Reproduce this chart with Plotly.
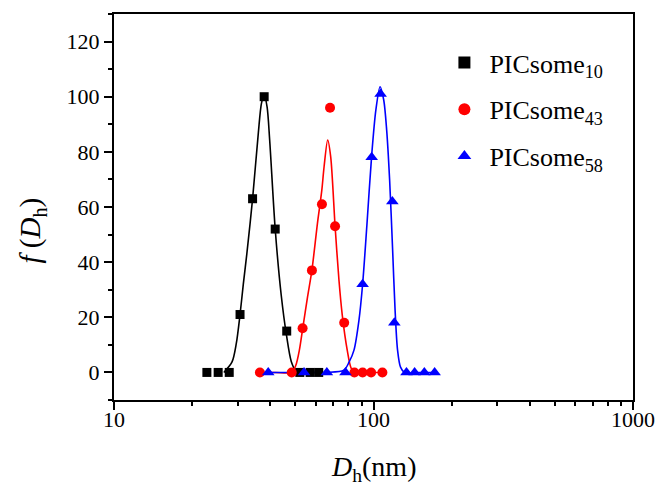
import plotly.graph_objects as go

# ---- measured data points (Dh in nm, f(Dh)) ----
black_x = [22.8, 25.2, 27.8, 30.6, 34.2, 37.9, 41.8, 46.3, 52.0, 57.0, 61.5]
black_y = [0, 0, 0, 21, 63, 100, 52, 15, 0, 0, 0]

red_x = [36.5, 48.4, 53.3, 57.9, 63.3, 68.0, 71.1, 77.1, 84.4, 90.8, 97.9, 108.2]
red_y = [0, 0, 16, 37, 61, 96, 53, 18, 0, 0, 0, 0]

blue_x = [39.3, 54.0, 66.1, 78.0, 90.8, 98.4, 106.5, 118.2, 120.3, 134, 144, 157, 172]
blue_y = [0, 0, 0, 0, 32, 78, 101, 62, 18, 0, 0, 0, 0]

# ---- fitted curves ----
black_fit_x = [26.5, 28.5, 29.6, 30.6, 31.5, 32.5, 34.2, 36.0, 37.0, 37.9, 38.9, 39.8,
               41.8, 44.1, 46.2, 48.2, 50.3, 52.0, 57.0, 61.5]
black_fit_y = [0, 3.8, 10.5, 21, 32, 43, 63, 87, 97.6, 100.6, 96.3, 84.3,
               52, 28, 13.5, 4, 0.5, 0, 0, 0]

red_fit_x = [36.5, 42.0, 48.4, 50.2, 51.8, 53.4, 55.7, 57.9, 60.8, 63.2, 64.5, 66.6,
             68.4, 71.1, 73.6, 75.8, 79.2, 82.0, 84.9, 95.0, 108.2]
red_fit_y = [0, 0, 0, 2.6, 8.1, 16.2, 27.4, 37.1, 54, 66, 74.6, 84.3,
             78.2, 53.2, 33.5, 20.8, 8.1, 1.6, 0, 0, 0]

blue_fit_x = [39.3, 55.0, 66.1, 76.9, 80.5, 84.1, 87.9, 90.8, 94.3, 98.3, 102.1, 106.0,
              109.5, 112.4, 115.4, 118.5, 121.1, 123.8, 127.1, 131.6, 150, 172]
blue_fit_y = [0, 0, 0, 0.8, 3.7, 8.1, 19, 32, 53.4, 78.2, 95.1, 103.6,
              98.8, 87.9, 69.7, 44.4, 22.6, 8.1, 1.9, 0, 0, 0]

names = ["PICsome<sub>10</sub>", "PICsome<sub>43</sub>", "PICsome<sub>58</sub>"]
x_tick_vals = [10, 100, 1000]
x_tick_text = ["10", "100", "1000"]

FONT = "Liberation Serif, Times New Roman, serif"

fig = go.Figure()

for fx, fy, col in [(black_fit_x, black_fit_y, "black"),
                    (red_fit_x, red_fit_y, "#ff0000"),
                    (blue_fit_x, blue_fit_y, "#0000ff")]:
    fig.add_trace(go.Scatter(x=fx, y=fy, mode="lines",
                             line=dict(color=col, width=1.6, shape="spline", smoothing=0.8),
                             showlegend=False, hoverinfo="skip"))

for i, (px, py, col, sym, nm, sz) in enumerate([
        (black_x, black_y, "black", "square", names[0], 9),
        (red_x, red_y, "#ff0000", "circle", names[1], 10),
        (blue_x, blue_y, "#0000ff", "triangle-up", names[2], 11)]):
    fig.add_trace(go.Scatter(x=px, y=py, mode="markers", name=nm,
                             legendgroup="g%d" % i,
                             marker=dict(color=col, symbol=sym, size=sz, line=dict(width=0))))

fig.update_layout(
    width=667, height=486,
    margin=dict(l=114, r=28, t=14, b=86),
    paper_bgcolor="white", plot_bgcolor="white",
    font=dict(family=FONT, size=22, color="black"),
    legend=dict(x=0.627, y=0.935, xanchor="left", yanchor="top",
                font=dict(family=FONT, size=26, color="black"),
                bgcolor="rgba(0,0,0,0)", itemsizing="constant", itemwidth=40,
                tracegroupgap=10),
    showlegend=True,
)

fig.update_xaxes(
    type="log", range=[1, 3],
    tickvals=x_tick_vals, ticktext=x_tick_text,
    ticks="outside", ticklen=8, tickwidth=2, tickcolor="black",
    ticklabelstandoff=-9,
    showline=True, linewidth=2, linecolor="black", mirror=True,
    showgrid=False, zeroline=False,
    tickfont=dict(family=FONT, size=22, color="black"),
    minor=dict(ticks="outside", ticklen=4, tickwidth=1.5, tickcolor="black",
               dtick="D1", showgrid=False),
)
fig.update_yaxes(
    range=[-10, 130], tick0=0, dtick=20,
    ticks="outside", ticklen=8, tickwidth=2, tickcolor="black",
    showline=True, linewidth=2, linecolor="black", mirror=True,
    showgrid=False, zeroline=False,
    tickfont=dict(family=FONT, size=22, color="black"),
    minor=dict(ticks="outside", ticklen=4, tickwidth=1.5, tickcolor="black",
               dtick=10, showgrid=False),
)

fig.add_annotation(text="<i>D</i><sub>h</sub>(nm)", xref="paper", yref="paper",
                   x=0.5, y=-0.178, xanchor="center", yanchor="middle", showarrow=False,
                   font=dict(family=FONT, size=28, color="black"))
fig.add_annotation(text="<i>f</i> (<i>D</i><sub>h</sub>)", xref="paper", yref="paper",
                   x=-0.158, y=0.439, xanchor="center", yanchor="middle", showarrow=False,
                   textangle=-90,
                   font=dict(family=FONT, size=29, color="black"))

fig.write_html("out.html")
